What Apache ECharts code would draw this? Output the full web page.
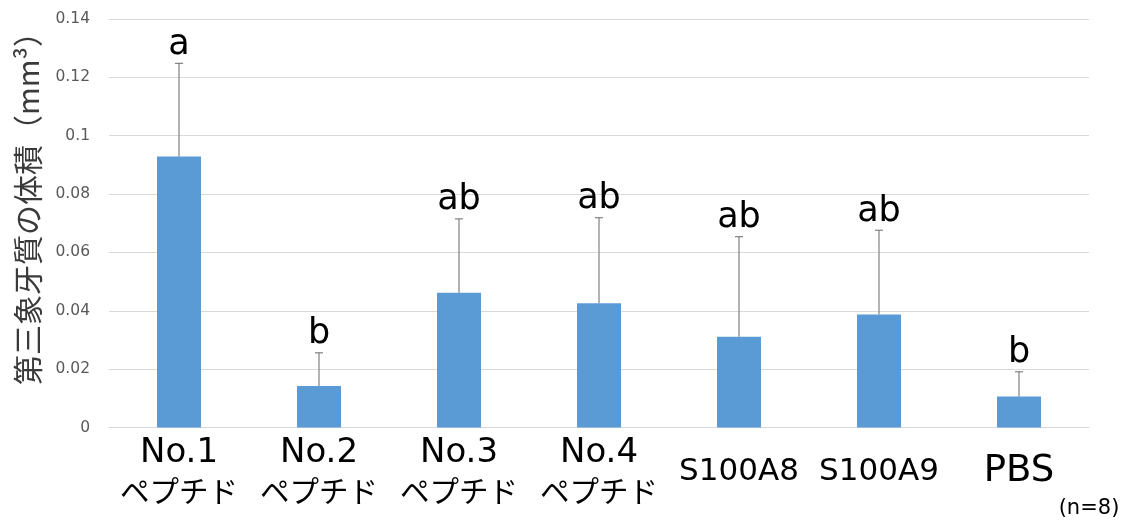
<!DOCTYPE html>
<html>
<head>
<meta charset="utf-8">
<script src="https://cdn.jsdelivr.net/npm/echarts@6/dist/echarts.min.js"></script>
<style>
  html, body { margin: 0; padding: 0; background: #fff; }
  #chart { width: 1126px; height: 520px; }
</style>
</head>
<body>
<div id="chart"></div>
<script>
// Groups on the x axis
const categories = ['No.1\nペプチド', 'No.2\nペプチド', 'No.3\nペプチド', 'No.4\nペプチド', 'S100A8', 'S100A9', 'PBS'];
// Mean volume of tertiary dentin (mm³)
const means = [0.0929, 0.0142, 0.0462, 0.0426, 0.0311, 0.0387, 0.0106];
// Upper error (SD) added to each mean
const errors = [0.0319, 0.0114, 0.0253, 0.0293, 0.0343, 0.0289, 0.0085];
// Significance letters
const letters = ['a', 'b', 'ab', 'ab', 'ab', 'ab', 'b'];
// Value axis ticks
const yMin = 0, yMax = 0.14, yStep = 0.02;

const LATIN = '"DejaVu Sans", "Noto Sans CJK JP", sans-serif';
const CJK = '"Noto Sans CJK JP", "DejaVu Sans", sans-serif';

const chart = echarts.init(document.getElementById('chart'), null, { renderer: 'canvas' });

const errData = means.map((m, i) => [i, m, m + errors[i]]);

chart.setOption({
  animation: false,
  backgroundColor: '#ffffff',
  grid: { left: 109, right: 37, top: 19, bottom: 92.5, containLabel: false },
  xAxis: {
    type: 'category',
    data: categories,
    axisLine: { show: true, lineStyle: { color: '#d9d9d9', width: 1 } },
    axisTick: { show: false },
    splitLine: { show: false },
    axisLabel: {
      interval: 0,
      margin: 44,
      verticalAlign: 'middle',
      color: '#000',
      formatter: function (v) {
        if (v.indexOf('\n') >= 0) {
          const parts = v.split('\n');
          return '{num|' + parts[0] + '}\n{kana|' + parts[1] + '}';
        }
        if (v === 'PBS') return '{pbs|' + v + '}';
        return '{s|' + v + '}';
      },
      rich: {
        num: { fontFamily: LATIN, fontSize: 34, lineHeight: 38, color: '#000' },
        kana: { fontFamily: CJK, fontSize: 29.5, lineHeight: 37, color: '#000' },
        s: { fontFamily: LATIN, fontSize: 31, lineHeight: 38, color: '#000' },
        pbs: { fontFamily: LATIN, fontSize: 37, lineHeight: 40, color: '#000' }
      }
    }
  },
  yAxis: {
    type: 'value',
    min: yMin,
    max: yMax,
    interval: yStep,
    axisLine: { show: false },
    axisTick: { show: false },
    splitLine: { show: true, lineStyle: { color: '#d9d9d9', width: 1 } },
    axisLabel: { margin: 19, color: '#595959', fontFamily: LATIN, fontSize: 15.5 }
  },
  series: [
    {
      type: 'bar',
      data: means,
      barWidth: 44,
      itemStyle: { color: '#5b9bd5' },
      z: 2
    },
    {
      type: 'custom',
      data: errData,
      z: 3,
      renderItem: function (params, api) {
        const i = api.value(0);
        const base = api.coord([i, api.value(1)]);
        const top = api.coord([i, api.value(2)]);
        const cap = 4;
        return {
          type: 'group',
          children: [
            {
              type: 'line',
              shape: { x1: base[0], y1: base[1], x2: top[0], y2: top[1] },
              style: { stroke: '#808080', lineWidth: 1.2 }
            },
            {
              type: 'line',
              shape: { x1: top[0] - cap, y1: top[1], x2: top[0] + cap, y2: top[1] },
              style: { stroke: '#808080', lineWidth: 1.2 }
            },
            {
              type: 'text',
              x: top[0],
              y: top[1] - 1,
              style: {
                text: letters[i],
                fontFamily: LATIN,
                fontSize: 35,
                fill: '#000',
                align: 'center',
                verticalAlign: 'bottom'
              }
            }
          ]
        };
      }
    }
  ],
  graphic: [
    {
      type: 'text',
      x: 28,
      y: 201,
      rotation: Math.PI / 2,
      style: {
        text: '第三象牙質の体積（mm³）',
        fontFamily: CJK,
        fontSize: 30,
        fill: '#3a3a3a',
        align: 'center',
        verticalAlign: 'middle'
      }
    },
    {
      type: 'text',
      x: 1089,
      y: 509,
      style: {
        text: '(n=8)',
        fontFamily: LATIN,
        fontSize: 21,
        fill: '#000',
        align: 'center',
        verticalAlign: 'middle'
      }
    }
  ]
});
</script>
</body>
</html>
